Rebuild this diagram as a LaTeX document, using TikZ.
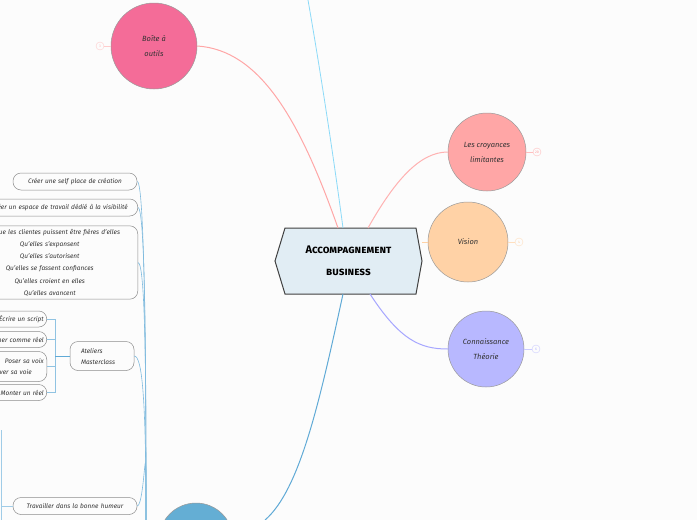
\documentclass[tikz,border=0pt]{standalone}
\usepackage{fontspec}
\setsansfont{Fira Sans}
\usetikzlibrary{shapes.geometric,calc}
\definecolor{hexfill}{RGB}{225,237,244}
\definecolor{bluebub}{RGB}{100,174,212}
\definecolor{trunk}{RGB}{96,170,214}
\definecolor{pinkbub}{RGB}{244,108,152}
\begin{document}
\begin{tikzpicture}[x=1pt,y=-1pt,
  txt/.style={font=\sffamily\itshape\fontsize{6.5}{11}\selectfont,text=black!80},
  bub/.style={circle,draw=black!40,line width=0.5pt,font=\sffamily\itshape\fontsize{7.5}{15}\selectfont,text=black!80,align=center,inner sep=0pt},
  leaf/.style={draw=black!45,rounded corners=8pt,txt,align=center,inner sep=3pt,line width=0.5pt},
  cnt/.style={circle,draw,minimum size=8pt,inner sep=0pt,font=\sffamily\fontsize{3.5}{4}\selectfont},
  br/.style={draw=trunk!70,line width=0.6pt}]
\useasboundingbox[fill=black!1] (0,0) rectangle (697,520);
\clip (0,0) rectangle (697,520);
% central
\draw[draw=black!75, fill=hexfill, line width=1pt] (285,228) -- (416,228) -- (422,261) -- (416,294) -- (285,294) -- (275,261) -- cycle;
\node[font=\sffamily\bfseries\scshape\fontsize{11}{22}\selectfont,align=center] (title) at (348.5,261) {Accompagnement\\ business};
% bubbles
\node[bub,fill=pinkbub,minimum size=86pt] (boite) at (154,46) {Boîte à\\ outils};
\node[bub,fill=red!35,minimum size=78pt] (croy) at (487,152) {Les croyances\\ limitantes};
\node[bub,fill=orange!35,minimum size=80pt] (vision) at (468,242) {Vision};
\node[bub,fill=blue!28,minimum size=76pt] (conn) at (486,349) {Connaissance\\ Théorie};
\node[bub,fill=bluebub,minimum size=74pt] (blue) at (196,540) {};
% counters
\node[cnt,draw=red!20,text=red!30] (k1) at (100,46) {3};
\draw[red!20] (k1) -- (boite);
\node[cnt,draw=red!25,text=red!40] (k2) at (537,152) {20};
\draw[red!25] (croy) -- (k2);
\node[cnt,draw=orange!25,text=orange!40] (k3) at (519,242) {4};
\draw[orange!25] (vision) -- (k3);
\node[cnt,draw=blue!20,text=blue!30] (k4) at (536,349) {6};
\draw[blue!20] (conn) -- (k4);
% main connectors
\coordinate (top) at (308,0);
\coordinate (bot) at (265,520);
\draw[red!35,line width=1pt] (338,228) .. controls (300,120) and (260,50) .. (boite.east);
\draw[cyan!45,line width=0.8pt] (343,228) .. controls (330,130) and (315,40) .. (top);
\draw[red!30,line width=1pt] (368,228) .. controls (395,180) and (420,152) .. (croy.west);
\draw[orange!35,line width=1pt] (422,242) -- (vision.west);
\draw[blue!35,line width=1pt] (370,294) .. controls (400,340) and (420,349) .. (conn.west);
\draw[trunk,line width=1pt] (343,294) .. controls (320,400) and (300,490) .. (bot);
% left leaves
\node[leaf,minimum height=17pt,text width=118pt] (l1) at (75,181.5) {Créer une self place de création};
\node[leaf,minimum height=17pt,text width=150pt,anchor=east] (l2) at (138,207.5) {Créer un espace de travail dédié à la visibilité};
\node[leaf,text width=170pt,anchor=east,font=\sffamily\itshape\fontsize{6.5}{12.3}\selectfont] (l3) at (138,262.5) {Pour que les clientes puissent être fières d'elles\\ Qu'elles s'expansent\\ Qu'elles s'autorisent\\ Qu'elles se fassent confiances\\ Qu'elles croient en elles\\ Qu'elles avancent};
\node[leaf,minimum height=29pt,text width=58pt,align=left] (at) at (102,356) {\hspace*{8pt}Ateliers\\ \hspace*{8pt}Masterclass};
\node[leaf,minimum height=16pt,text width=80pt,anchor=east,align=right] (a1) at (47,319) {Écrire un script};
\node[leaf,minimum height=16pt,text width=80pt,anchor=east,align=right] (a2) at (47,339.5) {Tourner comme réel};
\node[leaf,minimum height=30pt,text width=80pt,anchor=east,align=right] (a3) at (47,366.5) {Poser sa voix\\ trouver sa voie\hspace*{12pt}};
\node[leaf,minimum height=16pt,text width=80pt,anchor=east,align=right] (a4) at (47,392.5) {Monter un réel};
\node[leaf,minimum height=17pt,text width=118pt] (l5) at (75,506) {Travailler dans la bonne humeur};
% bracket for ateliers
\coordinate (bk) at (55,356);
\draw[br] (a1.east) -- (55,319) -- (55,392.5) -- (a4.east);
\draw[br] (a2.east) -- (55,339.5);
\draw[br] (a3.east) -- (55,366.5);
\draw[trunk,line width=0.9pt] (bk) -- (at.west);
% trunk
\coordinate (tr) at (146,520);
\foreach \n in {l1,l2,l3,at,l5}{
  \draw[trunk!80,line width=0.6pt] (\n.east) .. controls ($(\n.east)+(8,0)$) and (146,400) .. (tr);
}
\coordinate (vl1) at (1,430);
\coordinate (vl2) at (1,520);
\draw[trunk!60,line width=0.6pt] (vl1) -- (vl2);
\draw[trunk!60,line width=0.6pt] (l5.west) -- (1,506);
\end{tikzpicture}
\end{document}
